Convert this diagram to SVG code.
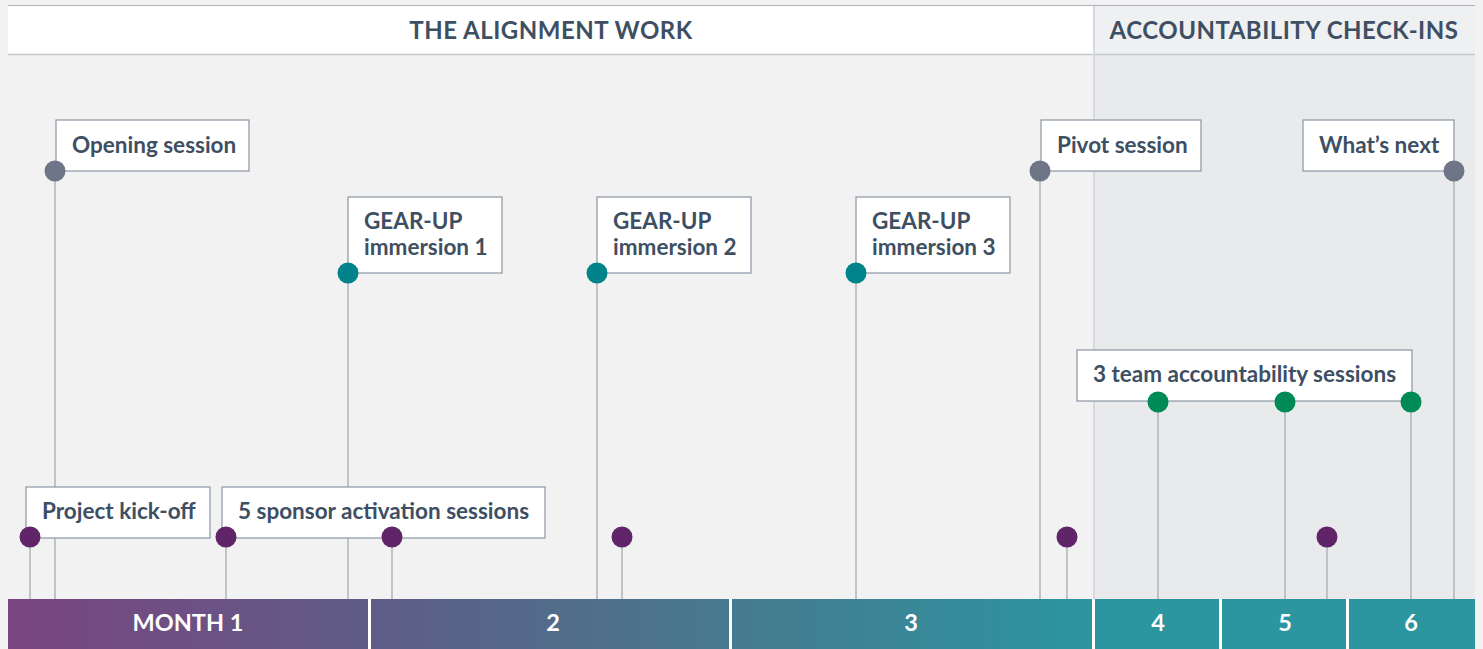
<svg xmlns="http://www.w3.org/2000/svg" width="1483" height="649" viewBox="0 0 1483 649">
<defs>
<linearGradient id="barGrad" gradientUnits="userSpaceOnUse" x1="8" y1="0" x2="1092" y2="0">
<stop offset="0" stop-color="#7a4580"/>
<stop offset="0.33" stop-color="#5f5c87"/>
<stop offset="0.66" stop-color="#47798f"/>
<stop offset="1" stop-color="#2b95a0"/>
</linearGradient>
<style>
.lbl{font-family:Lato,"Noto Sans",sans-serif;font-weight:700;font-size:22.5px;fill:#3e4f63}
.hdr{font-family:Lato,"Noto Sans",sans-serif;font-weight:700;font-size:24px;fill:#3e4f63;letter-spacing:0.5px}
.mon{font-family:Lato,"Noto Sans",sans-serif;font-weight:700;font-size:23.5px;fill:#ffffff}
.box{fill:#ffffff;stroke:#8a95a3;stroke-width:1.2}
.stem{stroke:#b3b7bd;stroke-width:1.6;fill:none}
.dg{fill:#6e7586}
.dp{fill:#5f2568}
.dt{fill:#00838a}
.dn{fill:#008a55}
</style>
</defs>
<rect x="0" y="0" width="1483" height="649" fill="#f2f2f2"/>
<rect x="1094" y="6" width="381" height="593" fill="#e9eaec"/>
<g id="header">
<rect x="8" y="6" width="1085" height="48" fill="#ffffff"/>
<rect x="1094" y="6" width="381" height="48" fill="#eff0f2"/>
<line x1="8" y1="5.5" x2="1475" y2="5.5" stroke="#aab1ba" stroke-width="1.2"/>
<line x1="8" y1="54.5" x2="1475" y2="54.5" stroke="#c3c8ce" stroke-width="1.5"/>
<line x1="1094" y1="6" x2="1094" y2="599" stroke="#d6d9dd" stroke-width="2"/>
<text class="hdr" x="551" y="39" text-anchor="middle">THE ALIGNMENT WORK</text>
<text class="hdr" x="1284" y="39" text-anchor="middle">ACCOUNTABILITY CHECK-INS</text>
</g>
<g id="connectors">
<line class="stem" x1="55" y1="171" x2="55" y2="599"/>
<line class="stem" x1="30" y1="537" x2="30" y2="599"/>
<line class="stem" x1="226" y1="537" x2="226" y2="599"/>
<line class="stem" x1="392" y1="537" x2="392" y2="599"/>
<line class="stem" x1="348" y1="273" x2="348" y2="599"/>
<line class="stem" x1="597" y1="273" x2="597" y2="599"/>
<line class="stem" x1="622" y1="537" x2="622" y2="599"/>
<line class="stem" x1="856" y1="273" x2="856" y2="599"/>
<line class="stem" x1="1040" y1="171" x2="1040" y2="599"/>
<line class="stem" x1="1067" y1="537" x2="1067" y2="599"/>
<line class="stem" x1="1158" y1="402" x2="1158" y2="599"/>
<line class="stem" x1="1285" y1="402" x2="1285" y2="599"/>
<line class="stem" x1="1327" y1="537" x2="1327" y2="599"/>
<line class="stem" x1="1411" y1="402" x2="1411" y2="599"/>
<line class="stem" x1="1454" y1="171" x2="1454" y2="599"/>
</g>
<g id="opening-session">
<rect class="box" x="56" y="120" width="193" height="51"/>
<text class="lbl" x="72" y="153">Opening session</text>
<circle class="dg" cx="55" cy="171" r="10.5"/>
</g>
<g id="project-kickoff">
<rect class="box" x="26" y="487" width="184" height="51"/>
<text class="lbl" x="42" y="519">Project kick-off</text>
<circle class="dp" cx="30" cy="537" r="10.5"/>
</g>
<g id="sponsor-sessions">
<rect class="box" x="222" y="487" width="323" height="51"/>
<text class="lbl" x="238" y="519">5 sponsor activation sessions</text>
<circle class="dp" cx="226" cy="537" r="10.5"/>
<circle class="dp" cx="392" cy="537" r="10.5"/>
</g>
<g id="gearup-1">
<rect class="box" x="348" y="197" width="154" height="76"/>
<text class="lbl" x="364" y="229">GEAR-UP</text>
<text class="lbl" x="364" y="255">immersion 1</text>
<circle class="dt" cx="348" cy="273" r="10.5"/>
</g>
<g id="gearup-2">
<rect class="box" x="597" y="197" width="154" height="76"/>
<text class="lbl" x="613" y="229">GEAR-UP</text>
<text class="lbl" x="613" y="255">immersion 2</text>
<circle class="dt" cx="597" cy="273" r="10.5"/>
</g>
<g id="gearup-3">
<rect class="box" x="856" y="197" width="154" height="76"/>
<text class="lbl" x="872" y="229">GEAR-UP</text>
<text class="lbl" x="872" y="255">immersion 3</text>
<circle class="dt" cx="856" cy="273" r="10.5"/>
</g>
<g id="sponsor-dots">
<circle class="dp" cx="622" cy="537" r="10.5"/>
<circle class="dp" cx="1067" cy="537" r="10.5"/>
<circle class="dp" cx="1327" cy="537" r="10.5"/>
</g>
<g id="pivot-session">
<rect class="box" x="1041" y="120" width="160" height="51"/>
<text class="lbl" x="1057" y="153">Pivot session</text>
<circle class="dg" cx="1040" cy="171" r="10.5"/>
</g>
<g id="whats-next">
<rect class="box" x="1303" y="120" width="151" height="51"/>
<text class="lbl" x="1319" y="153">What’s next</text>
<circle class="dg" cx="1454" cy="171" r="10.5"/>
</g>
<g id="team-sessions">
<rect class="box" x="1077" y="350" width="335" height="51"/>
<text class="lbl" x="1093" y="382">3 team accountability sessions</text>
<circle class="dn" cx="1158" cy="402" r="10.5"/>
<circle class="dn" cx="1285" cy="402" r="10.5"/>
<circle class="dn" cx="1411" cy="402" r="10.5"/>
</g>
<g id="months">
<rect x="8" y="599" width="1084" height="50" fill="url(#barGrad)"/>
<rect x="1095" y="599" width="380" height="50" fill="#2b95a0"/>
<rect x="368" y="599" width="3" height="50" fill="#ffffff"/>
<rect x="729" y="599" width="3" height="50" fill="#ffffff"/>
<rect x="1092" y="599" width="3" height="50" fill="#ffffff"/>
<rect x="1219" y="599" width="3" height="50" fill="#ffffff"/>
<rect x="1346" y="599" width="3" height="50" fill="#ffffff"/>
<text class="mon" x="188" y="631" text-anchor="middle">MONTH 1</text>
<text class="mon" x="553" y="631" text-anchor="middle">2</text>
<text class="mon" x="911" y="631" text-anchor="middle">3</text>
<text class="mon" x="1158" y="631" text-anchor="middle">4</text>
<text class="mon" x="1285" y="631" text-anchor="middle">5</text>
<text class="mon" x="1411" y="631" text-anchor="middle">6</text>
</g>
</svg>
